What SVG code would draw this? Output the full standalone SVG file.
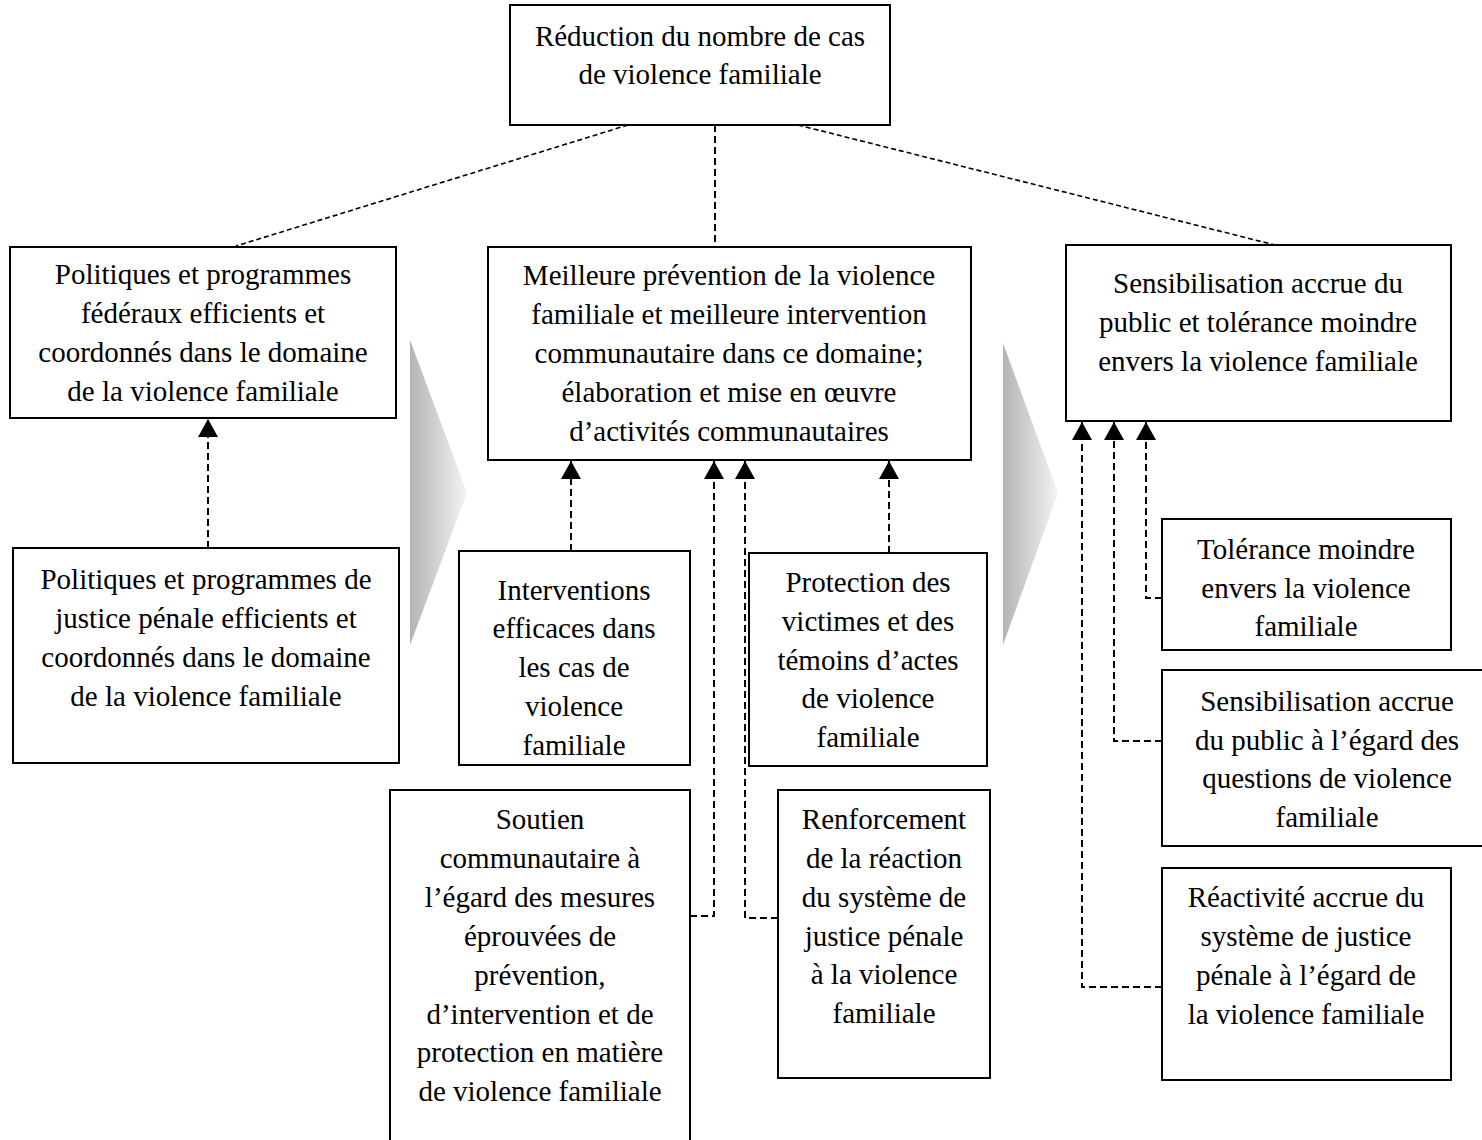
<svg xmlns="http://www.w3.org/2000/svg" width="1482" height="1140" viewBox="0 0 1482 1140">
<style>
.box{fill:#fff;stroke:#000;stroke-width:2}
.t{font-family:"Liberation Serif","Times New Roman",serif;font-size:29px;fill:#000;text-anchor:middle}
.c{fill:none;stroke:#000;stroke-width:2;stroke-dasharray:7,4}
.d{fill:none;stroke:#000;stroke-width:1.6;stroke-dasharray:5,3}
</style>
<defs>
<linearGradient id="g" x1="0" y1="0" x2="1" y2="0">
<stop offset="0" stop-color="#b4b4b4"/>
<stop offset="1" stop-color="#f4f4f4"/>
</linearGradient>
<marker id="ah" markerWidth="20" markerHeight="18" refX="10" refY="0" orient="0" markerUnits="userSpaceOnUse" viewBox="0 0 20 18">
<path d="M0,18 L10,0 L20,18 Z" fill="#000"/>
</marker>
</defs>
<rect width="1482" height="1140" fill="#fff"/>
<g id="chevrons">
<polygon points="410,340 467,493 410,645" fill="url(#g)"/>
<polygon points="1003,343 1058,493 1003,645" fill="url(#g)"/>
</g>
<g id="connectors">
<line class="d" x1="628" y1="125" x2="236" y2="246"/>
<line class="c" x1="715" y1="125" x2="715" y2="247"/>
<line class="d" x1="798" y1="125" x2="1275" y2="245"/>
<path class="c" d="M208,548 V419" marker-end="url(#ah)"/>
<path class="c" d="M571,551 V461" marker-end="url(#ah)"/>
<path class="c" d="M690,916 H714 V461" marker-end="url(#ah)"/>
<path class="c" d="M778,918 H745 V461" marker-end="url(#ah)"/>
<path class="c" d="M889,553 V461" marker-end="url(#ah)"/>
<path class="c" d="M1162,598 H1146 V422" marker-end="url(#ah)"/>
<path class="c" d="M1162,741 H1114 V422" marker-end="url(#ah)"/>
<path class="c" d="M1162,987 H1082 V422" marker-end="url(#ah)"/>
</g>
<g id="n-top">
<rect class="box" x="510" y="5" width="380" height="120"/>
<text class="t" x="700" y="46">Réduction du nombre de cas</text>
<text class="t" x="700" y="84">de violence familiale</text>
</g>
<g id="n-federal">
<rect class="box" x="10" y="247" width="386" height="171"/>
<text class="t" x="203" y="284">Politiques et programmes</text>
<text class="t" x="203" y="323">fédéraux efficients et</text>
<text class="t" x="203" y="362">coordonnés dans le domaine</text>
<text class="t" x="203" y="401">de la violence familiale</text>
</g>
<g id="n-prevention">
<rect class="box" x="488" y="247" width="483" height="213"/>
<text class="t" x="729" y="285">Meilleure prévention de la violence</text>
<text class="t" x="729" y="324">familiale et meilleure intervention</text>
<text class="t" x="729" y="363">communautaire dans ce domaine;</text>
<text class="t" x="729" y="402">élaboration et mise en œuvre</text>
<text class="t" x="729" y="441">d’activités communautaires</text>
</g>
<g id="n-sensib">
<rect class="box" x="1066" y="245" width="385" height="176"/>
<text class="t" x="1258" y="293">Sensibilisation accrue du</text>
<text class="t" x="1258" y="332">public et tolérance moindre</text>
<text class="t" x="1258" y="371">envers la violence familiale</text>
</g>
<g id="n-justice">
<rect class="box" x="13" y="548" width="386" height="215"/>
<text class="t" x="206" y="589">Politiques et programmes de</text>
<text class="t" x="206" y="628">justice pénale efficients et</text>
<text class="t" x="206" y="667">coordonnés dans le domaine</text>
<text class="t" x="206" y="706">de la violence familiale</text>
</g>
<g id="n-interventions">
<rect class="box" x="459" y="551" width="231" height="214"/>
<text class="t" x="574" y="600">Interventions</text>
<text class="t" x="574" y="638">efficaces dans</text>
<text class="t" x="574" y="677">les cas de</text>
<text class="t" x="574" y="716">violence</text>
<text class="t" x="574" y="755">familiale</text>
</g>
<g id="n-protection">
<rect class="box" x="749" y="553" width="238" height="213"/>
<text class="t" x="868" y="592">Protection des</text>
<text class="t" x="868" y="631">victimes et des</text>
<text class="t" x="868" y="670">témoins d’actes</text>
<text class="t" x="868" y="708">de violence</text>
<text class="t" x="868" y="747">familiale</text>
</g>
<g id="n-soutien">
<rect class="box" x="390" y="790" width="300" height="360"/>
<text class="t" x="540" y="829">Soutien</text>
<text class="t" x="540" y="868">communautaire à</text>
<text class="t" x="540" y="907">l’égard des mesures</text>
<text class="t" x="540" y="946">éprouvées de</text>
<text class="t" x="540" y="985">prévention,</text>
<text class="t" x="540" y="1024">d’intervention et de</text>
<text class="t" x="540" y="1062">protection en matière</text>
<text class="t" x="540" y="1101">de violence familiale</text>
</g>
<g id="n-renforcement">
<rect class="box" x="778" y="790" width="212" height="288"/>
<text class="t" x="884" y="829">Renforcement</text>
<text class="t" x="884" y="868">de la réaction</text>
<text class="t" x="884" y="907">du système de</text>
<text class="t" x="884" y="946">justice pénale</text>
<text class="t" x="884" y="984">à la violence</text>
<text class="t" x="884" y="1023">familiale</text>
</g>
<g id="n-tolerance">
<rect class="box" x="1162" y="519" width="289" height="131"/>
<text class="t" x="1306" y="559">Tolérance moindre</text>
<text class="t" x="1306" y="598">envers la violence</text>
<text class="t" x="1306" y="636">familiale</text>
</g>
<g id="n-sensib2">
<rect class="box" x="1162" y="670" width="330" height="176"/>
<text class="t" x="1327" y="711">Sensibilisation accrue</text>
<text class="t" x="1327" y="750">du public à l’égard des</text>
<text class="t" x="1327" y="788">questions de violence</text>
<text class="t" x="1327" y="827">familiale</text>
</g>
<g id="n-reactivite">
<rect class="box" x="1162" y="868" width="289" height="212"/>
<text class="t" x="1306" y="907">Réactivité accrue du</text>
<text class="t" x="1306" y="946">système de justice</text>
<text class="t" x="1306" y="985">pénale à l’égard de</text>
<text class="t" x="1306" y="1024">la violence familiale</text>
</g>
</svg>
